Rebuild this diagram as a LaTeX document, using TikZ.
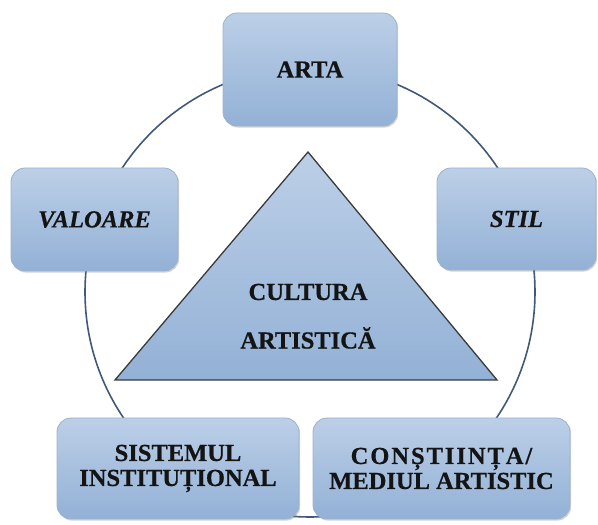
\documentclass[tikz,border=0pt]{standalone}
\usepackage{fontspec}
\setmainfont{Liberation Serif}
\newfontfamily\diagfont{Liberation Serif}[BoldFeatures={FakeBold=0.6},BoldItalicFeatures={FakeBold=0.6}]
\usetikzlibrary{shadows}
\definecolor{boxtop}{HTML}{BCCFE7}
\definecolor{boxbot}{HTML}{93B1D6}
\definecolor{boxline}{HTML}{9DB2CC}
\definecolor{ringcol}{HTML}{3F5976}
\definecolor{trline}{HTML}{3A3A3A}
\definecolor{txt}{HTML}{141414}
\tikzset{
  conceptbox/.style={rectangle, rounded corners=14pt, draw=boxline, line width=0.8pt,
    top color=boxtop, bottom color=boxbot, inner sep=0pt, align=center, text=txt,
    font=\diagfont\fontsize{24.5}{25}\selectfont\bfseries,
    drop shadow={opacity=0.35, shadow xshift=1.2pt, shadow yshift=-1.6pt}},
  ring/.style={circle, draw=ringcol, line width=1.6pt, minimum size=450pt, inner sep=0pt},
  centertext/.style={font=\diagfont\fontsize{24.5}{25}\selectfont\bfseries, inner sep=0pt, text=txt}
}
\begin{document}
\begin{tikzpicture}[x=1pt,y=1pt]
\useasboundingbox (0,0) rectangle (598,525);
\node[ring] (ring) at (310,233) {};
% central triangle
\coordinate (apex) at (308,373);
\coordinate (bl) at (115,145);
\coordinate (br) at (497,145);
\shade[top color=boxtop, bottom color=boxbot, draw=trline, line width=1.3pt, line join=miter]
  (apex) -- (br) -- (bl) -- cycle;
\node[centertext] (c1) at (308,233) {CULTURA};
\node[centertext] (c2) at (308,187) {ARTISTICĂ};
% boxes
\node[conceptbox, minimum width=174pt, minimum height=113pt] (arta) at (310,455.5) {ARTA};
\node[conceptbox, minimum width=167pt, minimum height=103pt] (valoare) at (94.5,305.5) {\itshape VALOARE};
\node[conceptbox, minimum width=159pt, minimum height=102pt] (stil) at (516.5,306) {\itshape STIL};
\node[conceptbox, minimum width=242pt, minimum height=101pt] (sistem) at (178,56.5) {SISTEMUL\\INSTITUȚIONAL};
\node[conceptbox, minimum width=257pt, minimum height=101pt] (constiinta) at (441.5,56.5) {{\addfontfeature{LetterSpace=8}CONȘTIINȚA/}\\MEDIUL ARTISTIC};
\end{tikzpicture}
\end{document}
